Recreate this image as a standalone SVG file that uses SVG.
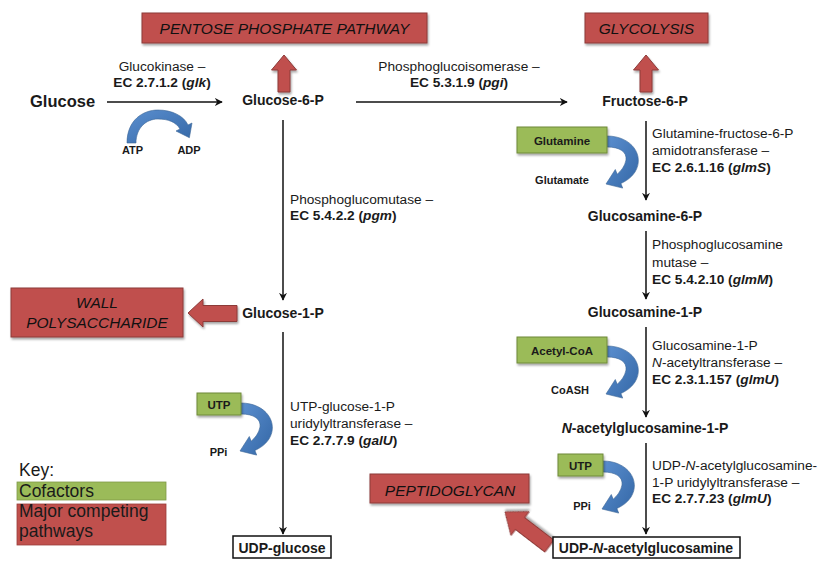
<svg xmlns="http://www.w3.org/2000/svg" width="819" height="561" viewBox="0 0 819 561">
<defs>
<style>
text{font-family:"Liberation Sans",Arial,sans-serif;fill:#1a1a1a}
.node{font-size:14px;font-weight:bold;text-anchor:middle}
.lbl{font-size:13.7px}
.ec{font-size:13.7px;font-weight:bold}
.c{text-anchor:middle}
.path{font-size:15.5px;font-style:italic;text-anchor:middle;fill:#111}
.cof{font-size:11.5px;font-weight:bold;text-anchor:middle}
.side{font-size:11px;font-weight:bold;text-anchor:middle}
.key{font-size:17.5px}
.red{fill:#c0504d;stroke:#8c3a38;stroke-width:1}
.green{fill:#9bbb59;stroke:#6f8a3a;stroke-width:1}
.box{fill:#fff;stroke:#111;stroke-width:1.5}
.conn{stroke:#111;stroke-width:1.5;fill:none;marker-end:url(#ah)}
.blue{fill:url(#bg);stroke:#3a6496;stroke-width:0.6}
i,.it{font-style:italic}
</style>
<marker id="ah" viewBox="0 0 10 10" refX="9" refY="5" markerWidth="8" markerHeight="8" markerUnits="userSpaceOnUse" orient="auto">
<path d="M0,0 L10,5 L0,10 L3,5 Z" fill="#111"/>
</marker>
<linearGradient id="bg" x1="0" y1="0" x2="1" y2="1">
<stop offset="0" stop-color="#5b8fcf"/>
<stop offset="1" stop-color="#3467a6"/>
</linearGradient>
<filter id="sh" x="-10%" y="-20%" width="130%" height="160%">
<feDropShadow dx="1" dy="2" stdDeviation="1.3" flood-color="#000" flood-opacity="0.35"/>
</filter>
<path id="cofarrow" d="M0,0 C25,0 38,20 28,36 C24,42 19,45 13.9,47.5 L15.7,52.1 L-1,48 L8.3,33.5 L10.2,38.2 C14,35 18,30 19,24 C20,16 13,11 0,11 Z"/>
<polygon id="uparrow" points="0,0 12.5,15 6,15 6,37 -6,37 -6,15 -12.5,15"/>
</defs>

<g id="connectors">
<line class="conn" x1="107" y1="102" x2="222" y2="102"/>
<line class="conn" x1="356" y1="102" x2="567" y2="102"/>
<line class="conn" x1="283" y1="120" x2="283" y2="300"/>
<line class="conn" x1="283" y1="332" x2="283" y2="534"/>
<line class="conn" x1="646" y1="121" x2="646" y2="200"/>
<line class="conn" x1="646" y1="231" x2="646" y2="299"/>
<line class="conn" x1="646" y1="327" x2="646" y2="417"/>
<line class="conn" x1="646" y1="443" x2="646" y2="534"/>
</g>

<g id="pathway-arrows">
<use href="#uparrow" class="red" x="284" y="55" filter="url(#sh)"/>
<use href="#uparrow" class="red" x="646" y="55" filter="url(#sh)"/>
<polygon class="red" filter="url(#sh)" points="188,313 203,299 203,305.5 237,305.5 237,321.5 203,321.5 203,327"/>
<polygon class="red" filter="url(#sh)" transform="translate(505,512) rotate(217.5)" points="0,0 -19,-15 -19,-7.5 -56,-7.5 -56,7.5 -19,7.5 -19,15"/>
</g>

<g id="label-glucokinase">
<text class="lbl c" x="162" y="71">Glucokinase –</text>
<text class="ec c" x="162" y="87">EC 2.7.1.2 (<tspan class="it">glk</tspan>)</text>
</g>
<g id="label-pgi">
<text class="lbl c" x="459" y="71">Phosphoglucoisomerase –</text>
<text class="ec c" x="459" y="87">EC 5.3.1.9 (<tspan class="it">pgi</tspan>)</text>
</g>
<g id="label-pgm">
<text class="lbl" x="290" y="204">Phosphoglucomutase –</text>
<text class="ec" x="290" y="220">EC 5.4.2.2 (<tspan class="it">pgm</tspan>)</text>
</g>
<g id="label-galU">
<text class="lbl" x="290" y="411">UTP-glucose-1-P</text>
<text class="lbl" x="290" y="428">uridylyltransferase –</text>
<text class="ec" x="290" y="445">EC 2.7.7.9 (<tspan class="it">galU</tspan>)</text>
</g>
<g id="label-glmS">
<text class="lbl" x="652" y="138">Glutamine-fructose-6-P</text>
<text class="lbl" x="652" y="155">amidotransferase –</text>
<text class="ec" x="652" y="172">EC 2.6.1.16 (<tspan class="it">glmS</tspan>)</text>
</g>
<g id="label-glmM">
<text class="lbl" x="652" y="249">Phosphoglucosamine</text>
<text class="lbl" x="652" y="267">mutase –</text>
<text class="ec" x="652" y="284">EC 5.4.2.10 (<tspan class="it">glmM</tspan>)</text>
</g>
<g id="label-glmU1">
<text class="lbl" x="652" y="350">Glucosamine-1-P</text>
<text class="lbl" x="652" y="367"><tspan class="it">N</tspan>-acetyltransferase –</text>
<text class="ec" x="652" y="384">EC 2.3.1.157 (<tspan class="it">glmU</tspan>)</text>
</g>
<g id="label-glmU2">
<text class="lbl" x="652" y="470">UDP-<tspan class="it">N</tspan>-acetylglucosamine-</text>
<text class="lbl" x="652" y="487">1-P uridylyltransferase –</text>
<text class="ec" x="652" y="503">EC 2.7.7.23 (<tspan class="it">glmU</tspan>)</text>
</g>

<g id="node-glucose"><text x="30" y="107" style="font-size:16.5px;font-weight:bold">Glucose</text></g>
<g id="node-g6p"><text class="node" x="283" y="105">Glucose-6-P</text></g>
<g id="node-f6p"><text class="node" x="645" y="106">Fructose-6-P</text></g>
<g id="node-g1p"><text class="node" x="283" y="318">Glucose-1-P</text></g>
<g id="node-udpglucose">
<rect class="box" x="233" y="536" width="98" height="22"/>
<text class="node" x="282" y="553">UDP-glucose</text>
</g>
<g id="node-glcn6p"><text class="node" x="645" y="221">Glucosamine-6-P</text></g>
<g id="node-glcn1p"><text class="node" x="645" y="317">Glucosamine-1-P</text></g>
<g id="node-nacglcn1p"><text class="node" x="645" y="433"><tspan class="it">N</tspan>-acetylglucosamine-1-P</text></g>
<g id="node-udpnacglcn">
<rect class="box" x="553" y="537" width="187" height="21"/>
<text class="node" x="646" y="553">UDP-<tspan class="it">N</tspan>-acetylglucosamine</text>
</g>

<g id="ppp">
<rect class="red" x="142" y="13" width="285" height="30" filter="url(#sh)"/>
<text class="path" x="284.5" y="34">PENTOSE PHOSPHATE PATHWAY</text>
</g>
<g id="glycolysis">
<rect class="red" x="585" y="13" width="123" height="30" filter="url(#sh)"/>
<text class="path" x="646.5" y="34">GLYCOLYSIS</text>
</g>
<g id="wall">
<rect class="red" x="11" y="288" width="172" height="49" filter="url(#sh)"/>
<text class="path" x="97" y="308">WALL</text>
<text class="path" x="97" y="328">POLYSACCHARIDE</text>
</g>
<g id="peptidoglycan">
<rect class="red" x="370" y="474" width="159" height="29" filter="url(#sh)"/>
<text class="path" x="450" y="496">PEPTIDOGLYCAN</text>
</g>

<g id="cofactor-atp">
<path class="blue" d="M127,143 C127,120 143,110 158,110 C172,110 184,116 188,125 L192,123 L189.4,137.7 L176,131 L180,129 C176,122 168,119 158,119 C146,119 136,128 136,143 Z"/>
<text class="side" x="132.5" y="154">ATP</text>
<text class="side" x="189" y="154">ADP</text>
</g>
<g id="cofactor-glutamine">
<use href="#cofarrow" class="blue" x="607" y="136"/>
<rect class="green" x="517" y="127" width="90" height="26" filter="url(#sh)"/>
<text class="cof" x="562" y="144.5">Glutamine</text>
<text class="side" x="562" y="184">Glutamate</text>
</g>
<g id="cofactor-acetylcoa">
<use href="#cofarrow" class="blue" x="607" y="346"/>
<rect class="green" x="517" y="337" width="90" height="26" filter="url(#sh)"/>
<text class="cof" x="562" y="354.5">Acetyl-CoA</text>
<text class="side" x="570" y="394">CoASH</text>
</g>
<g id="cofactor-utp1">
<use href="#cofarrow" class="blue" x="241" y="403"/>
<rect class="green" x="197" y="393" width="44" height="22" filter="url(#sh)"/>
<text class="cof" x="219" y="408.5">UTP</text>
<text class="side" x="218.5" y="456">PPi</text>
</g>
<g id="cofactor-utp2">
<use href="#cofarrow" class="blue" x="603" y="461"/>
<rect class="green" x="558" y="454" width="45" height="22" filter="url(#sh)"/>
<text class="cof" x="580.5" y="469.5">UTP</text>
<text class="side" x="582" y="510">PPi</text>
</g>

<g id="key">
<text class="key" x="19" y="476">Key:</text>
<rect x="17" y="482" width="149" height="18" fill="#9bbb59" stroke="#7f9a48" stroke-width="0.8"/>
<text class="key" x="19" y="497">Cofactors</text>
<rect x="17" y="504" width="149" height="41" fill="#c0504d" stroke="#9a3d3b" stroke-width="0.8"/>
<text class="key" x="19" y="517">Major competing</text>
<text class="key" x="19" y="537">pathways</text>
</g>
</svg>
